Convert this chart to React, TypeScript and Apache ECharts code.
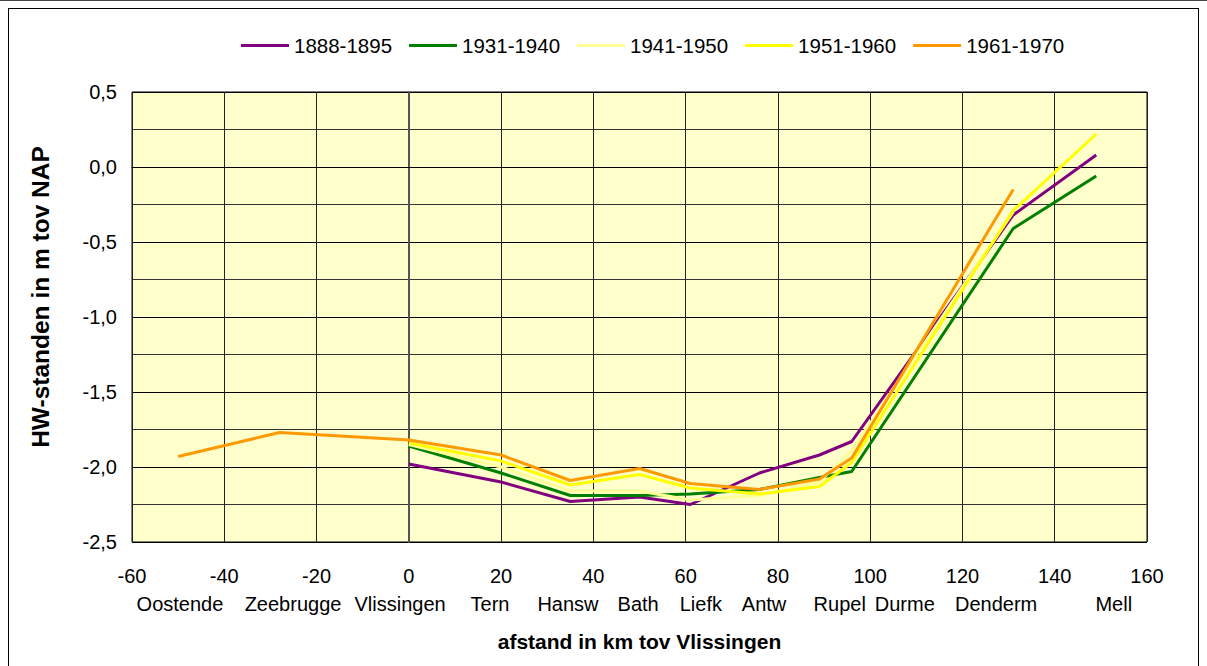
import React, { useEffect, useRef } from "react";
import * as echarts from "echarts";

// distances (km tov Vlissingen) of the measuring points
const km = [-50, -28, 0, 20, 35, 50, 61, 76, 89, 96, 131, 149];

const seriesNames = ["1888-1895", "1931-1940", "1941-1950", "1951-1960", "1961-1970"];
const seriesColors = ["#800080", "#008000", "#FFFF99", "#FFFF00", "#FF9900"];

// HW-standen (m tov NAP); null = no observation
const hw1888 = [null, null, -1.98, -2.1, -2.23, -2.2, -2.25, -2.04, -1.92, -1.83, -0.32, 0.08];
const hw1931 = [null, null, -1.86, -2.04, -2.19, -2.19, -2.18, -2.15, -2.07, -2.03, -0.41, -0.06];
const hw1941 = [null, null, -1.85, -2.0, -2.16, -2.16, -2.22, -2.19, -2.1, -1.89, -0.3, null];
const hw1951 = [null, null, -1.84, -1.96, -2.12, -2.05, -2.14, -2.18, -2.13, -1.97, -0.29, 0.22];
const hw1961 = [-1.93, -1.77, -1.82, -1.92, -2.09, -2.01, -2.11, -2.15, -2.08, -1.94, -0.15, null];

const seriesValues = [hw1888, hw1931, hw1941, hw1951, hw1961];

// station names and the km where their label stands
const stationNames = ["Oostende", "Zeebrugge", "Vlissingen", "Tern", "Hansw", "Bath", "Liefk", "Antw", "Rupel", "Durme", "Denderm", "Mell"];
const stationLabelKm = [-49.6, -25.1, -1.9, 17.6, 34.5, 49.7, 63.3, 77, 93.4, 107.5, 127.3, 152.8];

const FONT = "'Liberation Sans', Arial, sans-serif";

export default function App() {
  const ref = useRef<HTMLDivElement>(null);

  useEffect(() => {
    if (!ref.current) return;
    const chart = echarts.init(ref.current, null, { renderer: "svg" });

    const series = seriesNames.map((name, i) => ({
      name,
      type: "line",
      xAxisIndex: 0,
      data: km
        .map((x, j) => [x, seriesValues[i][j]])
        .filter((p) => p[1] !== null),
      showSymbol: false,
      symbol: "none",
      lineStyle: { color: seriesColors[i], width: 3 },
      itemStyle: { color: seriesColors[i] },
      z: 2 + i,
    }));

    chart.setOption({
      animation: false,
      textStyle: { fontFamily: FONT },
      legend: {
        top: 21,
        left: 227,
        itemWidth: 48,
        itemHeight: 14,
        itemGap: 17,
        textStyle: { fontSize: 20.5, color: "#000", fontFamily: FONT },
        data: seriesNames.map((n, i) => ({
          name: n,
          icon: "path://M0,6h48v3h-48z",
          itemStyle: { color: seriesColors[i] },
        })),
      },
      grid: {
        left: 123,
        top: 83,
        width: 1015,
        height: 450,
        show: true,
        backgroundColor: "#FFFFCC",
        borderColor: "#000",
        borderWidth: 1,
        containLabel: false,
      },
      xAxis: [
        {
          type: "value",
          min: -60,
          max: 160,
          interval: 20,
          name: "afstand in km tov Vlissingen",
          nameLocation: "middle",
          nameGap: 89,
          nameTextStyle: { fontSize: 21, fontWeight: "bold", color: "#000", fontFamily: FONT },
          axisLine: { show: true, lineStyle: { color: "#000", width: 1 } },
          axisTick: { show: false },
          axisLabel: { fontSize: 20, color: "#000", margin: 24, fontFamily: FONT },
          splitLine: { show: true, lineStyle: { color: "#222", width: 1 } },
        },
        {
          type: "value",
          min: -60,
          max: 160,
          position: "bottom",
          axisLine: { show: false },
          axisTick: { show: false },
          splitLine: { show: false },
          axisLabel: {
            show: true,
            customValues: stationLabelKm,
            margin: 52,
            fontSize: 20,
            color: "#000",
            fontFamily: FONT,
            formatter: (v: number) => {
              const idx = stationLabelKm.findIndex((k) => Math.abs(k - v) < 1e-6);
              return idx >= 0 ? stationNames[idx] : "";
            },
          },
        },
      ],
      yAxis: {
        type: "value",
        min: -2.5,
        max: 0.5,
        interval: 0.5,
        name: "HW-standen in m tov NAP",
        nameLocation: "middle",
        nameGap: 79,
        nameTextStyle: {
          fontSize: 24.5,
          fontWeight: "bold",
          color: "#000",
          fontFamily: FONT,
          padding: [0, 0, 0, 40],
        },
        axisLine: { show: true, lineStyle: { color: "#555", width: 2 } },
        axisTick: { show: false },
        axisLabel: {
          fontSize: 20,
          color: "#000",
          margin: 15,
          fontFamily: FONT,
          formatter: (v: number) => v.toFixed(1).replace(".", ","),
        },
        splitLine: { show: true, lineStyle: { color: "#000", width: 1 } },
        minorTick: { show: false, splitNumber: 2 },
        minorSplitLine: { show: true, lineStyle: { color: "#333", width: 1 } },
      },
      series,
    });

    return () => chart.dispose();
  }, []);

  return (
    <>
      <div
        style={{
          position: "absolute",
          left: 0,
          top: 0,
          width: "100%",
          height: 1,
          background: "#444",
        }}
      />
      <div
        ref={ref}
        style={{
          width: 1191,
          height: 658,
          boxSizing: "border-box",
          border: "1px solid #000",
          borderBottom: "none",
        }}
      />
    </>
  );
}
